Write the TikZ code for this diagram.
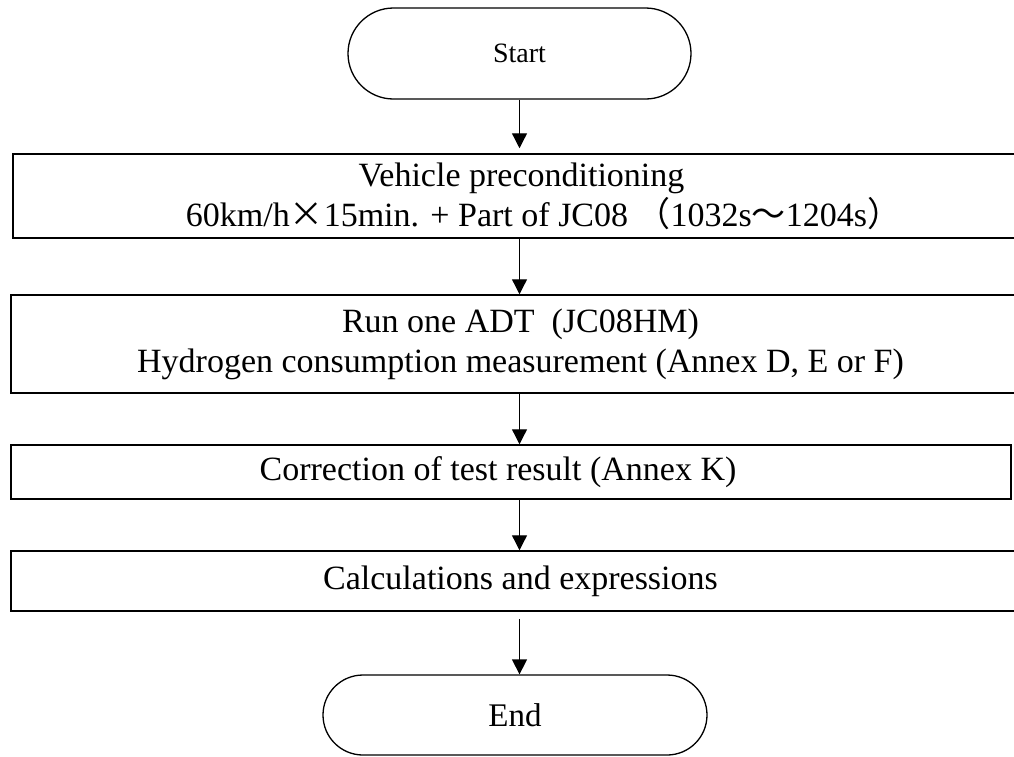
\documentclass[tikz,border=0pt]{standalone}
\usepackage{fontspec}
\setmainfont{Liberation Serif}
\newfontfamily\cjk{Noto Sans CJK SC}
\usetikzlibrary{arrows.meta}
\begin{document}
\begin{tikzpicture}[x=1pt,y=-1pt,
  proc/.style={draw, line width=1.5pt, inner sep=0pt, align=center, font=\fontsize{34}{40}\selectfont},
  term/.style={draw, line width=1.3pt, inner sep=0pt},
  flow/.style={line width=1.3pt, -{Triangle[width=15pt,length=15pt]}}]
\clip (0,0) rectangle (1014,756);
\fill[white] (0,0) rectangle (1014,756);
\node[term, rounded corners=45.5pt, minimum width=343pt, minimum height=91pt, font=\fontsize{28}{32}\selectfont] (start) at (519.5,53.5) {Start};
\node[proc, minimum width=1017pt, minimum height=84pt] (b1) at (521.5,196) {Vehicle preconditioning\\ \hspace*{44pt}60km/h{\cjk ×}15min. + Part of JC08 {\cjk （}1032s{\cjk ～}1204s{\cjk ）}};
\node[proc, minimum width=1019pt, minimum height=98pt] (b2) at (520.5,344) {Run one ADT \ (JC08HM)\\Hydrogen consumption measurement (Annex D, E or F)};
\node[proc, minimum width=1000pt, minimum height=54pt] (b3) at (511,472) {\hspace*{-26pt}Correction of test result (Annex K)};
\node[proc, minimum width=1019pt, minimum height=60pt] (b4) at (520.5,581) {Calculations and expressions};
\node[term, rounded corners=40pt, minimum width=384pt, minimum height=80pt, font=\fontsize{33}{40}\selectfont] (end) at (515,715) {End};
\draw[flow, shorten >=5pt] (start.south) -- (start.south |- b1.north);
\draw[flow] (start.south |- b1.south) -- (start.south |- b2.north);
\draw[flow] (start.south |- b2.south) -- (start.south |- b3.north);
\draw[flow] (start.south |- b3.south) -- (start.south |- b4.north);
\draw[flow, shorten <=7pt] (start.south |- b4.south) -- (start.south |- end.north);
\end{tikzpicture}
\end{document}
